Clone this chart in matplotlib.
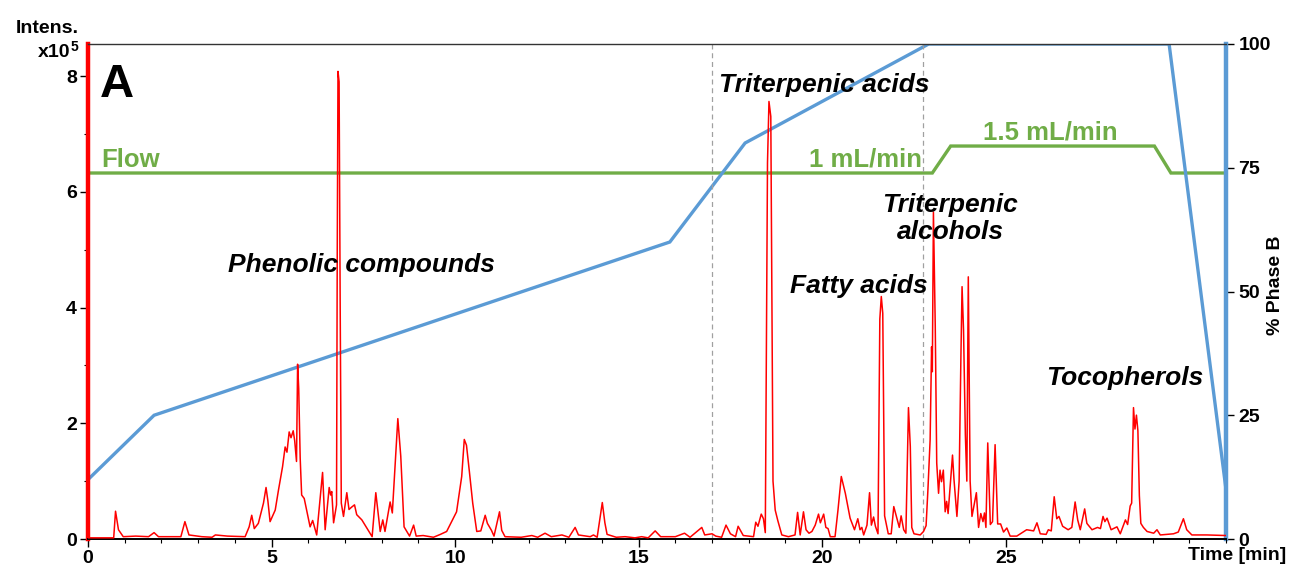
import matplotlib
matplotlib.use('Agg')
import matplotlib.pyplot as plt
from matplotlib.ticker import MultipleLocator

plt.rcParams['font.family'] = ['Liberation Sans', 'DejaVu Sans']
plt.rcParams['font.weight'] = 'bold'

# chromatogram trace (time in min, intensity in x10^5)
time_min = [
    0.00, 0.70, 0.75, 0.83, 0.96, 1.30, 1.65, 1.80, 1.92, 2.53, 2.64, 2.75, 3.10, 3.38, 3.47, 3.80,
    4.28, 4.39, 4.46, 4.53, 4.64, 4.78, 4.85, 4.90, 4.96, 5.10, 5.19, 5.30, 5.37, 5.42, 5.48, 5.53,
    5.59, 5.63, 5.68, 5.71, 5.74, 5.78, 5.82, 5.89, 6.05, 6.12, 6.23, 6.39, 6.46, 6.57, 6.61, 6.64, 6.69,
    6.77, 6.79, 6.81, 6.84, 6.87, 6.90, 6.96, 7.05, 7.11, 7.18, 7.26, 7.32, 7.46, 7.68, 7.74, 7.84, 7.96,
    8.03, 8.09, 8.23, 8.29, 8.44, 8.52, 8.61, 8.76, 8.87, 8.94, 9.13, 9.41, 9.60, 9.77, 10.04, 10.18,
    10.25, 10.31, 10.39, 10.48, 10.59, 10.70, 10.82, 10.88, 10.99, 11.06, 11.21, 11.27, 11.36, 11.80,
    12.09, 12.25, 12.45, 12.62, 12.91, 13.10, 13.27, 13.36, 13.68, 13.77, 13.87, 14.01, 14.08, 14.14,
    14.39, 14.63, 14.90, 15.08, 15.26, 15.45, 15.60, 16.00, 16.25, 16.40, 16.72, 16.80, 17.00, 17.10,
    17.26, 17.38, 17.50, 17.64, 17.71, 17.85, 18.13, 18.19, 18.25, 18.34, 18.40, 18.45, 18.51, 18.55,
    18.60, 18.66, 18.72, 18.79, 18.90, 19.08, 19.26, 19.33, 19.40, 19.49, 19.56, 19.64, 19.72, 19.81,
    19.90, 19.95, 20.04, 20.10, 20.16, 20.22, 20.35, 20.43, 20.52, 20.63, 20.76, 20.88, 20.97, 21.03,
    21.08, 21.13, 21.22, 21.29, 21.34, 21.40, 21.45, 21.52, 21.57, 21.61, 21.65, 21.70, 21.80, 21.88,
    21.95, 22.00, 22.10, 22.15, 22.22, 22.28, 22.35, 22.40, 22.44, 22.50, 22.67, 22.76, 22.83, 22.88,
    22.94, 22.98, 23.00, 23.03, 23.08, 23.12, 23.17, 23.21, 23.25, 23.30, 23.35, 23.39, 23.43, 23.55,
    23.59, 23.67, 23.73, 23.78, 23.81, 23.85, 23.90, 23.94, 23.98, 24.03, 24.08, 24.20, 24.26, 24.32,
    24.38, 24.42, 24.46, 24.51, 24.58, 24.64, 24.71, 24.78, 24.86, 24.94, 25.03, 25.12, 25.30, 25.57,
    25.76, 25.85, 25.94, 26.10, 26.16, 26.24, 26.32, 26.39, 26.45, 26.55, 26.70, 26.80, 26.89, 26.96,
    27.03, 27.15, 27.21, 27.35, 27.50, 27.58, 27.65, 27.70, 27.76, 27.87, 28.03, 28.12, 28.26, 28.32,
    28.39, 28.43, 28.48, 28.52, 28.56, 28.60, 28.64, 28.68, 28.75, 28.85, 29.03, 29.12, 29.21, 29.57,
    29.70, 29.84, 29.93, 30.07, 30.48, 30.94, 31.00,
]
intens = [
    0.02, 0.02, 0.48, 0.16, 0.04, 0.05, 0.04, 0.11, 0.04, 0.04, 0.30, 0.07, 0.04, 0.03, 0.07, 0.05,
    0.04, 0.21, 0.41, 0.18, 0.27, 0.62, 0.89, 0.66, 0.30, 0.50, 0.85, 1.25, 1.59, 1.50, 1.85, 1.75,
    1.87, 1.70, 1.34, 3.02, 2.60, 1.40, 0.76, 0.70, 0.21, 0.32, 0.07, 1.15, 0.16, 0.89, 0.76, 0.82, 0.28,
    0.59, 5.00, 8.08, 7.90, 4.00, 0.62, 0.39, 0.80, 0.51, 0.55, 0.59, 0.42, 0.33, 0.10, 0.04, 0.80, 0.13,
    0.33, 0.13, 0.64, 0.45, 2.08, 1.43, 0.21, 0.05, 0.24, 0.05, 0.06, 0.03, 0.08, 0.13, 0.47, 1.08,
    1.72, 1.62, 1.16, 0.62, 0.13, 0.14, 0.41, 0.27, 0.15, 0.05, 0.47, 0.15, 0.04, 0.03,
    0.06, 0.03, 0.10, 0.04, 0.07, 0.03, 0.20, 0.07, 0.04, 0.07, 0.03, 0.63, 0.28, 0.08,
    0.03, 0.04, 0.02, 0.04, 0.02, 0.14, 0.04, 0.04, 0.10, 0.03, 0.20, 0.07, 0.09, 0.05,
    0.03, 0.24, 0.09, 0.04, 0.22, 0.06, 0.04, 0.29, 0.22, 0.43, 0.35, 0.11, 6.50, 7.56,
    7.30, 1.00, 0.50, 0.32, 0.07, 0.04, 0.07, 0.46, 0.07, 0.47, 0.16, 0.10, 0.13, 0.24,
    0.43, 0.28, 0.43, 0.20, 0.18, 0.04, 0.04, 0.50, 1.08, 0.79, 0.36, 0.16, 0.35, 0.16,
    0.20, 0.07, 0.24, 0.80, 0.24, 0.38, 0.22, 0.09, 3.80, 4.19, 3.90, 0.40, 0.09, 0.09,
    0.56, 0.44, 0.20, 0.40, 0.16, 0.10, 2.27, 1.60, 0.20, 0.09, 0.07, 0.13, 0.23, 0.85,
    1.71, 3.32, 2.89, 5.65, 3.67, 1.31, 0.79, 1.19, 0.99, 1.19, 0.47, 0.65, 0.44, 1.45,
    1.03, 0.39, 1.00, 3.20, 4.36, 3.61, 1.80, 1.00, 4.53, 1.00, 0.39, 0.80, 0.20, 0.44,
    0.30, 0.45, 0.20, 1.66, 0.25, 0.30, 1.63, 0.26, 0.26, 0.12, 0.19, 0.05, 0.05, 0.16,
    0.14, 0.28, 0.09, 0.08, 0.16, 0.14, 0.73, 0.35, 0.39, 0.22, 0.16, 0.20, 0.64, 0.33,
    0.16, 0.52, 0.27, 0.16, 0.20, 0.18, 0.39, 0.30, 0.36, 0.16, 0.21, 0.09, 0.33, 0.25,
    0.57, 0.62, 2.27, 1.90, 2.14, 1.87, 0.75, 0.27, 0.20, 0.13, 0.10, 0.16, 0.07, 0.09,
    0.12, 0.35, 0.16, 0.07, 0.07, 0.06, 0.06,
]

# mobile phase gradient (% B)
grad_time = [0, 1.8, 15.85, 17.9, 22.9, 29.45, 31.0]
grad_b = [12, 25, 60, 80, 100, 100, 10]

# flow rate (mL/min)
flow_time = [0, 23.0, 23.5, 29.05, 29.5, 31.0]
flow_rate = [1.0, 1.0, 1.5, 1.5, 1.0, 1.0]

marker_times = [17.0, 22.75]

# compound class labels: text, time, intensity (baseline)
class_labels = ["Phenolic compounds", "Triterpenic acids", "Fatty acids", "Triterpenic\nalcohols", "Tocopherols"]
class_x = [7.44, 20.05, 21.0, 23.48, 28.25]
class_y = [4.61, 7.73, 4.245, 5.18, 2.66]

RED = '#FF0000'
BLUE = '#5B9BD5'
GREEN = '#70AD47'

fig = plt.figure(figsize=(12.89, 5.65), dpi=100)
ax = fig.add_axes([88 / 1289, 26 / 565, 1138 / 1289, 495 / 565])
ax2 = ax.twinx()
ax3 = ax.twinx()
ax3.set_zorder(1)
ax2.set_zorder(2)
ax.set_zorder(3)
for a in (ax, ax2, ax3):
    a.patch.set_visible(False)

# flow (hidden scale)
ax3.plot(flow_time, flow_rate, color=GREEN, lw=2.4, solid_joinstyle='miter')
ax3.set_ylim(-5.783, 3.391)
ax3.set_yticks([])
for s in ax3.spines.values():
    s.set_visible(False)

# gradient
ax2.plot(grad_time, grad_b, color=BLUE, lw=2.4, solid_joinstyle='miter')
ax2.set_ylim(0, 100)
ax2.set_yticks([0, 25, 50, 75, 100])
ax2.tick_params(axis='y', labelsize=14, length=6, width=1, pad=3, direction='out')
for lab in ax2.get_yticklabels():
    lab.set_fontweight('bold')
for k in ('left', 'top', 'bottom'):
    ax2.spines[k].set_visible(False)
ax2.spines['right'].set_color(BLUE)
ax2.spines['right'].set_linewidth(3.2)

# chromatogram
for t in marker_times:
    ax.axvline(t, color='#A0A0A0', lw=0.9, ls=(0, (4, 3)), zorder=1)
ax.plot(time_min, intens, color=RED, lw=1.1, zorder=3)
ax.set_xlim(0, 31)
ax.set_ylim(0, 8.553)
ax.xaxis.set_major_locator(MultipleLocator(5))
ax.xaxis.set_minor_locator(MultipleLocator(1))
ax.set_xticks([0, 5, 10, 15, 20, 25])
ax.yaxis.set_major_locator(MultipleLocator(2))
ax.yaxis.set_minor_locator(MultipleLocator(1))
ax.tick_params(axis='both', which='major', labelsize=14, length=6, width=1, pad=2)
ax.tick_params(axis='both', which='minor', length=3, width=0.8)
for lab in ax.get_xticklabels() + ax.get_yticklabels():
    lab.set_fontweight('bold')
ax.spines['right'].set_visible(False)
ax.spines['left'].set_color(RED)
ax.spines['left'].set_linewidth(3.2)
ax.spines['top'].set_linewidth(1.0)
ax.spines['top'].set_color('#333333')
ax.spines['bottom'].set_linewidth(1.4)

# labels
ax.text(0.33, 7.64, "A", fontsize=34, fontweight='bold', ha='left', va='baseline')
for txt, x, y in zip(class_labels, class_x, class_y):
    ax.text(x, y, txt, fontsize=19, fontweight='bold', fontstyle='italic',
            ha='center', va='baseline', linespacing=1.15, zorder=5)
ax.text(0.35, 6.43, "Flow", color=GREEN, fontsize=18.5, fontweight='bold', ha='left', va='baseline')
ax.text(22.72, 6.43, "1 mL/min", color=GREEN, fontsize=18.5, fontweight='bold', ha='right', va='baseline')
ax.text(24.38, 6.91, "1.5 mL/min", color=GREEN, fontsize=18.5, fontweight='bold', ha='left', va='baseline')

fig.text(79 / 1289, 1 - 33 / 565, "Intens.", fontsize=14, fontweight='bold', ha='right', va='baseline')
fig.text(70 / 1289, 1 - 57 / 565, "x10", fontsize=14, fontweight='bold', ha='right', va='baseline')
fig.text(71 / 1289, 1 - 51 / 565, "5", fontsize=10, fontweight='bold', ha='left', va='baseline')
fig.text(1275 / 1289, 1 - 285 / 565, "% Phase B", fontsize=14, fontweight='bold', rotation=90,
         ha='center', va='center')
fig.text(1286 / 1289, 1 - 560 / 565, "Time [min]", fontsize=14, fontweight='bold', ha='right', va='baseline')

fig.savefig('out.png', dpi=100, facecolor='white')
